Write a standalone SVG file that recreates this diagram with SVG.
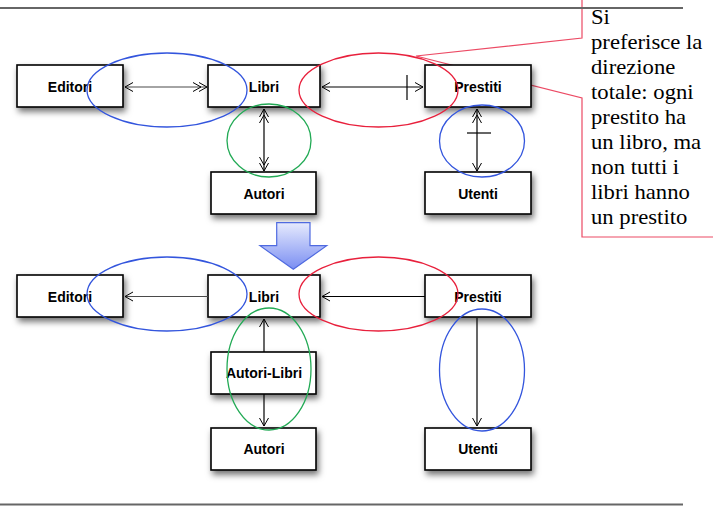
<svg xmlns="http://www.w3.org/2000/svg" width="713" height="506" viewBox="0 0 713 506">
<defs>
<style>
.box{fill:#fff;stroke:#000;stroke-width:1.6;filter:url(#sh)}
.lbl{font-family:"Liberation Sans",Arial,sans-serif;font-weight:bold;font-size:14px;text-anchor:middle;fill:#000}
.con{stroke:#000;stroke-width:1.2;fill:none}
.gray{stroke:#4a4a4a}
.ell{fill:none;stroke-width:1.3}
.blue{stroke:#3355dd}
.green{stroke:#22aa55}
.red{stroke:#e8203c}
.note{font-family:"Liberation Serif","Times New Roman",serif;font-size:21px;fill:#000}
.rule{stroke:#666;stroke-width:2.2}
</style>
<filter id="sh" x="-20%" y="-30%" width="140%" height="170%">
<feDropShadow dx="2" dy="4" stdDeviation="3" flood-color="#000" flood-opacity="0.55"/>
</filter>
<marker id="a1" viewBox="-1 -1 10 10" refX="8" refY="4.5" markerWidth="10" markerHeight="10" markerUnits="userSpaceOnUse" orient="auto-start-reverse" overflow="visible">
<path d="M0,0 L8,4.5 L0,9" fill="none" stroke="#000" stroke-width="1"/>
</marker>
<marker id="a2" viewBox="-1 -1 16 10" refX="14" refY="4.5" markerWidth="16" markerHeight="10" markerUnits="userSpaceOnUse" orient="auto-start-reverse" overflow="visible">
<path d="M0,0 L8,4.5 L0,9 M6,0 L14,4.5 L6,9" fill="none" stroke="#000" stroke-width="1"/>
</marker>
<linearGradient id="bg" x1="0" y1="0" x2="0" y2="1">
<stop offset="0" stop-color="#e6eafd"/>
<stop offset="1" stop-color="#7a8ef2"/>
</linearGradient>
</defs>
<rect width="713" height="506" fill="#fff"/>

<g id="callout">
<path d="M582,-2 L716,-2 L716,237 L582,237 L582,98 L416,56 L582,38 Z" fill="none" stroke="#ec4a64" stroke-width="1.2"/>
<text class="note" x="591" y="24" transform="translate(591,0) scale(1.08,1) translate(-591,0)">
<tspan x="591" y="24">Si</tspan>
<tspan x="591" y="49">preferisce la</tspan>
<tspan x="591" y="74">direzione</tspan>
<tspan x="591" y="99">totale: ogni</tspan>
<tspan x="591" y="124">prestito ha</tspan>
<tspan x="591" y="149">un libro, ma</tspan>
<tspan x="591" y="174">non tutti i</tspan>
<tspan x="591" y="199">libri hanno</tspan>
<tspan x="591" y="224">un prestito</tspan>
</text>
</g>

<line class="rule" x1="0" y1="8" x2="683" y2="8"/>
<line class="rule" x1="0" y1="504.5" x2="683" y2="504.5"/>

<g id="top-editori"><rect class="box" x="17" y="65" width="106" height="42"/><text class="lbl" x="70" y="92">Editori</text></g>
<g id="top-libri"><rect class="box" x="208" y="65" width="112" height="42"/><text class="lbl" x="264" y="92">Libri</text></g>
<g id="top-prestiti"><rect class="box" x="425" y="65" width="106" height="42"/><text class="lbl" x="478" y="92">Prestiti</text></g>
<g id="top-autori"><rect class="box" x="211" y="172" width="105" height="42"/><text class="lbl" x="264" y="199">Autori</text></g>
<g id="top-utenti"><rect class="box" x="425" y="172" width="106" height="42"/><text class="lbl" x="478" y="199">Utenti</text></g>

<g id="bot-editori"><rect class="box" x="17" y="275" width="106" height="42"/><text class="lbl" x="70" y="302">Editori</text></g>
<g id="bot-libri"><rect class="box" x="208" y="275" width="112" height="42"/><text class="lbl" x="264" y="302">Libri</text></g>
<g id="bot-prestiti"><rect class="box" x="425" y="275" width="106" height="42"/><text class="lbl" x="478" y="302">Prestiti</text></g>
<g id="bot-autori-libri"><rect class="box" x="211" y="352" width="105" height="42"/><text class="lbl" x="264" y="378">Autori-Libri</text></g>
<g id="bot-autori"><rect class="box" x="211" y="428" width="105" height="42"/><text class="lbl" x="264" y="454">Autori</text></g>
<g id="bot-utenti"><rect class="box" x="425" y="428" width="106" height="42"/><text class="lbl" x="478" y="454">Utenti</text></g>

<g id="connectors">
<line class="con gray" x1="125" y1="87" x2="207" y2="87" marker-start="url(#a1)" marker-end="url(#a2)"/>
<line class="con" x1="322" y1="87" x2="423" y2="87" marker-start="url(#a1)" marker-end="url(#a1)"/>
<line class="con" x1="407" y1="75" x2="407" y2="100"/>
<line class="con" x1="264" y1="109" x2="264" y2="171" marker-start="url(#a2)" marker-end="url(#a2)"/>
<line class="con" x1="477" y1="109" x2="477" y2="171" marker-start="url(#a2)" marker-end="url(#a1)"/>
<line class="con" x1="467" y1="133" x2="491" y2="133" stroke-width="2"/>
<line class="con gray" x1="208" y1="296.5" x2="125" y2="296.5" marker-end="url(#a1)"/>
<line class="con" x1="425" y1="296.5" x2="322" y2="296.5" marker-end="url(#a1)"/>
<line class="con" x1="264" y1="352" x2="264" y2="319" marker-end="url(#a1)"/>
<line class="con" x1="264" y1="394" x2="264" y2="426" marker-end="url(#a1)"/>
<line class="con" x1="477" y1="318" x2="477" y2="426" marker-end="url(#a1)"/>
</g>

<g id="transform-arrow">
<path d="M276.7,222.7 L310,222.7 L310,245.7 L326.7,245.7 L293.3,269.3 L260,245.7 L276.7,245.7 Z" fill="url(#bg)" stroke="#4f6ae0" stroke-width="1.2" stroke-linejoin="miter"/>
</g>

<g id="highlights">
<ellipse class="ell blue" cx="167" cy="90" rx="80" ry="37"/>
<ellipse class="ell green" cx="269" cy="140.5" rx="42" ry="36.5"/>
<ellipse class="ell red" cx="378.5" cy="90" rx="79.5" ry="37"/>
<ellipse class="ell blue" cx="482" cy="141" rx="42.5" ry="36"/>
<ellipse class="ell blue" cx="167" cy="294" rx="80" ry="37"/>
<ellipse class="ell green" cx="269" cy="369" rx="42" ry="61"/>
<ellipse class="ell red" cx="378.5" cy="294" rx="79.5" ry="37"/>
<ellipse class="ell blue" cx="482" cy="370" rx="42.5" ry="61"/>
</g>
</svg>
